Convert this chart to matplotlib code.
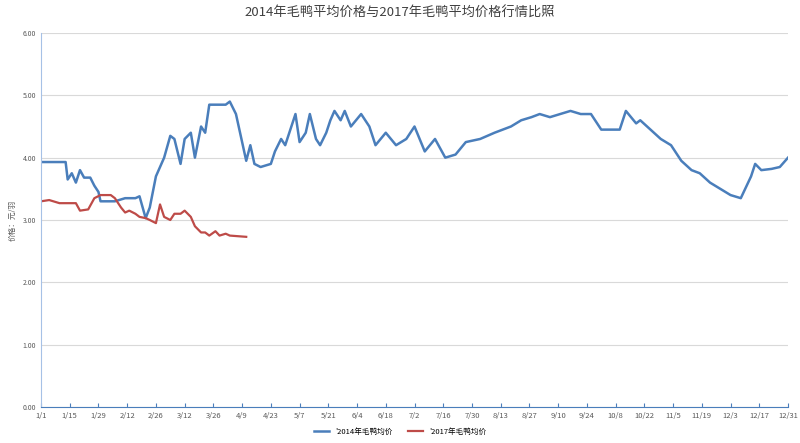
import matplotlib
matplotlib.use("Agg")
import matplotlib.pyplot as plt

plt.rcParams['font.family'] = ['Noto Sans CJK SC', 'DejaVu Sans']

tick_labels = ["1/1","1/15","1/29","2/12","2/26","3/12","3/26","4/9","4/23","5/7","5/21","6/4","6/18",
               "7/2","7/16","7/30","8/13","8/27","9/10","9/24","10/8","10/22","11/5","11/19","12/3","12/17","12/31"]
tick_days = [0,14,28,42,56,70,84,98,112,126,140,154,168,182,196,210,224,238,252,266,280,294,308,322,336,350,364]

days_2014 = [0,12,13,15,17,19,21,24,26,28,29,31,36,41,46,48,51,53,56,60,63,65,68,70,73,75,78,80,82,90,92,95,100,102,104,107,
             112,114,117,119,121,124,126,129,131,134,136,139,141,143,146,148,151,156,160,163,168,173,178,182,187,192,197,
             202,207,214,221,229,234,239,243,248,253,258,263,268,273,282,285,290,292,297,302,307,312,317,321,326,331,336,
             341,346,348,351,356,360,364]
vals_2014 = [3.93,3.93,3.65,3.75,3.6,3.8,3.68,3.68,3.55,3.45,3.3,3.3,3.3,3.35,3.35,3.38,3.03,3.2,3.7,4.0,4.35,4.3,3.9,4.3,4.4,
             4.0,4.5,4.4,4.85,4.85,4.9,4.7,3.95,4.2,3.9,3.85,3.9,4.1,4.3,4.2,4.4,4.7,4.25,4.4,4.7,4.3,4.2,4.4,4.6,4.75,4.6,
             4.75,4.5,4.7,4.5,4.2,4.4,4.2,4.3,4.5,4.1,4.3,4.0,4.05,4.25,4.3,4.4,4.5,4.6,4.65,4.7,4.65,4.7,4.75,4.7,4.7,4.45,
             4.45,4.75,4.55,4.6,4.45,4.3,4.2,3.95,3.8,3.75,3.6,3.5,3.4,3.35,3.7,3.9,3.8,3.82,3.85,4.0]

days_2017 = [0,4,9,17,19,23,26,29,34,36,39,41,43,46,48,51,53,56,58,60,63,65,68,70,73,75,78,80,82,85,87,90,92,100]
vals_2017 = [3.3,3.32,3.27,3.27,3.15,3.17,3.35,3.4,3.4,3.35,3.2,3.12,3.15,3.1,3.05,3.03,3.0,2.95,3.25,3.05,3.0,3.1,3.1,
             3.15,3.05,2.9,2.8,2.8,2.75,2.82,2.75,2.78,2.75,2.73]

fig = plt.figure(figsize=(8, 4.43), dpi=100)
ax = fig.add_axes([41/800, 1-407/443, 747/800, 374/443])
ax.plot(days_2014, vals_2014, color='#4a7ebb', lw=1.8, label="'2014年毛鸭均价")
ax.plot(days_2017, vals_2017, color='#be4b48', lw=1.6, label="'2017年毛鸭均价")
ax.set_xlim(0, 364)
ax.set_ylim(0, 6)
ax.set_yticks([0,1,2,3,4,5,6])
ax.set_yticklabels([f"{v:.2f}" for v in range(7)], fontsize=5, color='#595959')
ax.set_xticks(tick_days)
ax.set_xticklabels(tick_labels, fontsize=5.5, color='#595959')
ax.grid(axis='y', color='#d9d9d9', lw=0.8)
ax.set_axisbelow(True)
for s in ['top','right']:
    ax.spines[s].set_visible(False)
ax.spines['left'].set_color('#a6c1e6')
ax.spines['bottom'].set_color('#4a7ebb')
ax.tick_params(axis='y', length=0)
ax.tick_params(axis='x', direction='in', length=3, color='#4a7ebb')
ax.set_ylabel("价格：元/羽", fontsize=5.5, color='#595959')
fig.suptitle("2014年毛鸭平均价格与2017年毛鸭平均价格行情比照", y=0.985, fontsize=9.5, color='#404040')
fig.legend(loc='lower center', ncol=2, fontsize=5.5, frameon=False, bbox_to_anchor=(0.5, 0.0))
fig.savefig("out.png", dpi=100)
